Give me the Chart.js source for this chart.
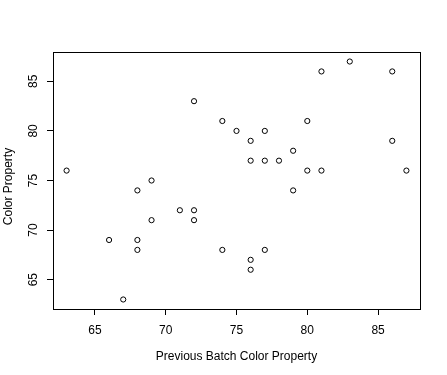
<!DOCTYPE html>
<html>
<head>
<meta charset="utf-8">
<script src="https://cdn.jsdelivr.net/npm/chart.js@4/dist/chart.umd.min.js"></script>
<style>
  html, body { margin: 0; padding: 0; background: #fff; }
  #wrap { width: 447px; height: 375px; }
</style>
</head>
<body>
<div id="wrap"><canvas id="plot" width="447" height="375"></canvas></div>
<script>
// Datos
const batchPrev = [63, 66, 67, 68, 68, 68, 69, 69, 71, 72, 72, 72, 74, 74, 75, 76, 76, 76, 76, 77, 77, 77, 78, 79, 79, 80, 80, 81, 81, 83, 86, 86, 87];
const colorProp = [76, 69, 63, 74, 69, 68, 75, 71, 72, 83, 72, 71, 81, 68, 80, 79, 77, 67, 66, 80, 77, 68, 77, 78, 74, 81, 76, 86, 76, 87, 86, 79, 76];
const xTicks = [65, 70, 75, 80, 85];
const yTicks = [65, 70, 75, 80, 85];
const xTitle = 'Previous Batch Color Property';
const yTitle = 'Color Property';

// rango tipo R (4% extra a cada lado)
function rango(vals) {
    const lo = Math.min(...vals), hi = Math.max(...vals);
    const d = (hi - lo) * 0.04;
    return [lo - d, hi + d];
}
const [xMin, xMax] = rango(batchPrev);
const [yMin, yMax] = rango(colorProp);

const puntos = batchPrev.map((x, i) => ({ x: x, y: colorProp[i] }));

// caja alrededor del area del grafico + titulo del eje y (un poco mas abajo, como en R)
const cajaPlugin = {
    id: 'caja',
    afterDraw(chart) {
        const a = chart.chartArea;
        const ctx = chart.ctx;
        ctx.save();
        ctx.strokeStyle = '#000';
        ctx.lineWidth = 1;
        ctx.strokeRect(Math.round(a.left) + 0.5, Math.round(a.top) + 0.5,
            Math.round(a.right - a.left), Math.round(a.bottom - a.top));

        ctx.fillStyle = '#000';
        ctx.font = '12px "Liberation Sans", Arial, sans-serif';
        ctx.textAlign = 'center';
        ctx.textBaseline = 'middle';
        ctx.translate(9, (a.top + a.bottom) / 2 + 6);
        ctx.rotate(-Math.PI / 2);
        ctx.fillText(yTitle, 0, 0);
        ctx.restore();
    }
};

Chart.defaults.font.family = '"Liberation Sans", Arial, sans-serif';
Chart.defaults.font.size = 12;
Chart.defaults.color = '#000';

new Chart(document.getElementById('plot'), {
    type: 'scatter',
    data: {
        datasets: [{
            data: puntos,
            pointStyle: 'circle',
            pointRadius: 2.6,
            pointHoverRadius: 2.6,
            borderWidth: 1,
            borderColor: '#000',
            backgroundColor: 'rgba(0,0,0,0)'
        }]
    },
    options: {
        responsive: false,
        animation: false,
        events: [],
        layout: { padding: { top: 52, right: 27, left: 0, bottom: 0 } },
        plugins: { legend: { display: false }, tooltip: { enabled: false } },
        scales: {
            x: {
                type: 'linear',
                min: xMin,
                max: xMax,
                afterBuildTicks: s => { s.ticks = xTicks.map(v => ({ value: v })); },
                afterFit: s => { s.height = 66; },
                grid: { drawOnChartArea: false, color: '#000', tickLength: 6, tickColor: '#000' },
                border: { display: false },
                ticks: { padding: 8, maxRotation: 0, color: '#000' },
                title: { display: true, text: xTitle, color: '#000', padding: { top: 0, bottom: 11 } }
            },
            y: {
                type: 'linear',
                min: yMin,
                max: yMax,
                afterBuildTicks: s => { s.ticks = yTicks.map(v => ({ value: v })); },
                afterFit: s => { s.width = 53; },
                grid: { drawOnChartArea: false, color: '#000', tickLength: 6, tickColor: '#000' },
                border: { display: false },
                ticks: { padding: 7, minRotation: 90, maxRotation: 90, crossAlign: 'center', color: '#000' },
                title: { display: false }
            }
        }
    },
    plugins: [cajaPlugin]
});
</script>
</body>
</html>
